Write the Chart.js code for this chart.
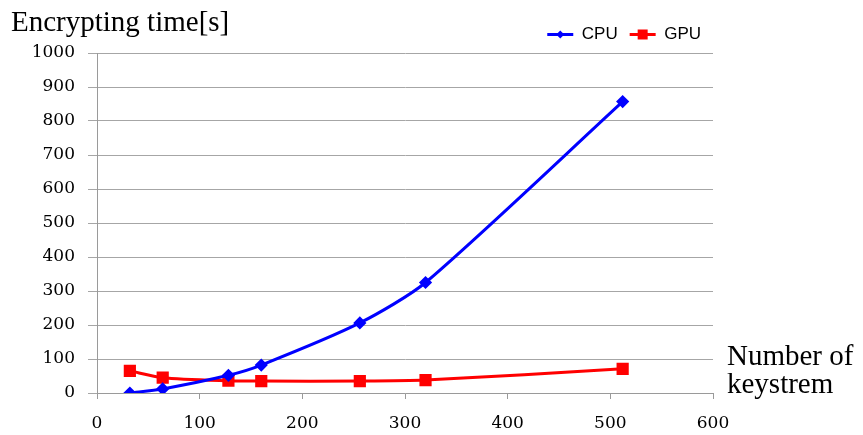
<!DOCTYPE html>
<html>
<head>
<meta charset="utf-8">
<script src="https://cdn.jsdelivr.net/npm/chart.js@4.4.1/dist/chart.umd.min.js"></script>
<style>
    body { margin: 0; background: #fff; }
    #boks { position: relative; width: 863px; height: 435px; }
    .tekst { position: absolute; font-family: "Liberation Serif", serif; font-size: 29px; color: #000; line-height: 30px; white-space: nowrap; }
    #ytitel { left: 11px; top: 6px; }
    #xtitel { left: 727px; top: 341px; line-height: 28px; }
</style>
</head>
<body>
<div id="boks">
    <canvas id="Graf" width="863" height="435"></canvas>
    <div class="tekst" id="ytitel">Encrypting time[s]</div>
    <div class="tekst" id="xtitel">Number of<br>keystrem</div>
</div>
<script>
var noegler = [32, 64, 128, 160, 256, 320, 512];
var cpuTid = [0, 12, 52, 82, 206, 325, 857];
var gpuTid = [65, 45, 36, 35, 35, 38, 71];
var xTicks = [0, 100, 200, 300, 400, 500, 600];
var yTicks = [0, 100, 200, 300, 400, 500, 600, 700, 800, 900, 1000];
var graf;

function Punkter(liste) {
    return noegler.map(function (x, i) { return { x: x, y: liste[i] }; });
}

// tegner markoeren midt paa legend-linjen
var legendMarker = {
    id: 'legendMarker',
    afterDraw: function (chart) {
        var leg = chart.legend;
        if (!leg || !leg.legendHitBoxes) return;
        var ctx = chart.ctx;
        leg.legendHitBoxes.forEach(function (box, i) {
            var ds = chart.data.datasets[i];
            var cx = box.left + 26 / 2;
            var cy = box.top + box.height / 2;
            ctx.save();
            ctx.fillStyle = ds.borderColor;
            ctx.beginPath();
            if (i == 0) {
                ctx.moveTo(cx, cy - 4);
                ctx.lineTo(cx + 4, cy);
                ctx.lineTo(cx, cy + 4);
                ctx.lineTo(cx - 4, cy);
                ctx.closePath();
            } else {
                ctx.rect(cx - 5, cy - 5, 10, 10);
            }
            ctx.fill();
            ctx.restore();
        });
    }
};

function CreateChart() {
    graf = new Chart("Graf", {
        type: "line",
        data: {
            datasets: [{
                label: "CPU",
                data: Punkter(cpuTid),
                borderColor: "#0000ff",
                backgroundColor: "#0000ff",
                borderWidth: 3,
                pointStyle: "rectRot",
                pointRadius: 4.5,
                pointHoverRadius: 4.5,
                tension: 0.25,
                fill: false
            }, {
                label: "GPU",
                data: Punkter(gpuTid),
                borderColor: "#ff0000",
                backgroundColor: "#ff0000",
                borderWidth: 3,
                pointStyle: "rect",
                pointRadius: 6.5,
                pointHoverRadius: 6.5,
                tension: 0.25,
                fill: false
            }]
        },
        options: {
            responsive: false,
            animation: false,
            layout: { padding: { left: 0, right: 150, top: 14, bottom: 0 } },
            plugins: {
                tooltip: { enabled: false },
                legend: {
                    position: "top",
                    align: "end",
                    labels: {
                        boxWidth: 26,
                        boxHeight: 3,
                        padding: 12,
                        color: "#000",
                        font: { family: "'Liberation Sans', sans-serif", size: 17 },
                        generateLabels: function (chart) {
                            var items = Chart.defaults.plugins.legend.labels.generateLabels(chart);
                            items.forEach(function (it) { it.lineWidth = 0; });
                            return items;
                        }
                    }
                }
            },
            scales: {
                x: {
                    type: "linear",
                    min: 0,
                    max: 600,
                    afterBuildTicks: function (s) { s.ticks = xTicks.map(function (v) { return { value: v }; }); },
                    afterFit: function (s) { s.height = 42; },
                    grid: { drawOnChartArea: false, drawTicks: true, tickLength: 6, color: "#9a9a9a" },
                    border: { color: "#9a9a9a" },
                    ticks: { padding: 14, color: "#000", maxRotation: 0, font: { family: "'DejaVu Serif', serif", size: 17 },
                        callback: function (v) { return String(v); } }
                },
                y: {
                    min: 0,
                    max: 1000,
                    afterBuildTicks: function (s) { s.ticks = yTicks.map(function (v) { return { value: v }; }); },
                    afterFit: function (s) { s.width = 97; },
                    grid: { color: "#a6a6a6", tickLength: 9 },
                    border: { color: "#9a9a9a" },
                    ticks: { padding: 13, color: "#000", font: { family: "'DejaVu Serif', serif", size: 17 },
                        callback: function (v) { return String(v); } }
                }
            }
        },
        plugins: [legendMarker]
    });
}

CreateChart();
</script>
</body>
</html>
